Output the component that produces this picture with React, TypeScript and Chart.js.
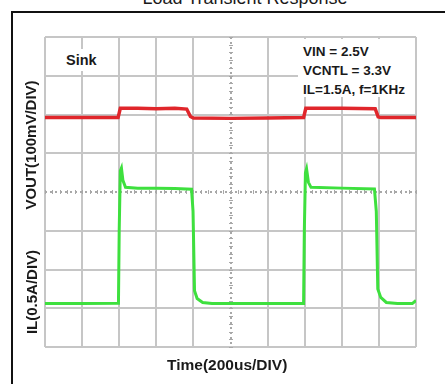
import React, { useEffect, useRef } from "react";
import { Chart, registerables } from "chart.js";
Chart.register(...registerables);

// Time axis in divisions (200us/DIV), 10 divisions
const X_MIN = 0;
const X_MAX = 10;
// Vertical axis in divisions, 8 divisions
const Y_MIN = 0;
const Y_MAX = 8;

// VOUT trace (100mV/DIV), level in screen divisions from the bottom
const voutTime = [0, 1.0, 1.97, 2.03, 2.5, 3.0, 3.5, 3.82, 3.92, 4.0, 5.0, 6.0, 6.97, 7.03, 8.0, 8.9, 8.98, 9.05, 10];
const voutLevel = [5.92, 5.92, 5.92, 6.16, 6.16, 6.15, 6.16, 6.14, 5.95, 5.91, 5.9, 5.91, 5.92, 6.16, 6.16, 6.15, 5.94, 5.92, 5.92];

// IL trace (0.5A/DIV), level in screen divisions from the bottom
const ilTime = [0, 1.0, 1.98, 2.0, 2.03, 2.06, 2.1, 2.17, 2.5, 3.0, 3.5, 3.95, 3.99, 4.03, 4.1, 4.25, 4.5, 5.0, 6.0, 6.97, 6.99, 7.02, 7.05, 7.1, 7.17, 8.0, 8.88, 8.93, 8.97, 9.05, 9.2, 9.5, 9.9, 10];
const ilLevel = [1.12, 1.12, 1.13, 3.0, 4.55, 4.62, 4.3, 4.12, 4.1, 4.1, 4.09, 4.07, 3.5, 1.45, 1.25, 1.15, 1.12, 1.12, 1.12, 1.12, 3.0, 4.5, 4.6, 4.25, 4.12, 4.1, 4.08, 3.5, 1.5, 1.28, 1.15, 1.12, 1.12, 1.2];

const CENTER_X = 5;
const CENTER_Y = 4;

const FONT = '"Liberation Sans", Arial, sans-serif';

const centerLines = {
  id: "centerLines",
  beforeDatasetsDraw(chart: any) {
    const { ctx, chartArea, scales } = chart;
    const xs = scales.x;
    const ys = scales.y;
    const cx = Math.round(xs.getPixelForValue(CENTER_X));
    const cy = Math.round(ys.getPixelForValue(CENTER_Y));
    ctx.save();
    ctx.strokeStyle = "#a8a8a8";
    ctx.lineWidth = 2;
    ctx.setLineDash([2, 3]);
    ctx.beginPath();
    ctx.moveTo(cx, chartArea.top);
    ctx.lineTo(cx, chartArea.bottom);
    ctx.moveTo(chartArea.left, cy);
    ctx.lineTo(chartArea.right, cy);
    ctx.stroke();
    ctx.setLineDash([]);
    ctx.lineWidth = 1;
    ctx.beginPath();
    for (let v = Y_MIN; v <= Y_MAX + 1e-6; v += 0.2) {
      const py = Math.round(ys.getPixelForValue(v)) + 0.5;
      ctx.moveTo(cx - 2, py);
      ctx.lineTo(cx + 2, py);
    }
    for (let v = X_MIN; v <= X_MAX + 1e-6; v += 0.2) {
      const px = Math.round(xs.getPixelForValue(v)) + 0.5;
      ctx.moveTo(px, cy - 2);
      ctx.lineTo(px, cy + 2);
    }
    ctx.stroke();
    ctx.restore();
  },
};

function ChartCanvas() {
  const ref = useRef<HTMLCanvasElement | null>(null);
  useEffect(() => {
    if (!ref.current) return;
    const vout = voutTime.map((t, i) => ({ x: t, y: voutLevel[i] }));
    const il = ilTime.map((t, i) => ({ x: t, y: ilLevel[i] }));
    const gridColor = (c: any) =>
      c.tick && (c.scale.axis === "x" ? c.tick.value === CENTER_X : c.tick.value === CENTER_Y)
        ? "rgba(0,0,0,0)"
        : "#c6c6c6";
    const chart = new Chart(ref.current, {
      type: "line",
      data: {
        datasets: [
          {
            label: "VOUT",
            data: vout,
            borderColor: "#e0262b",
            borderWidth: 3.5,
            pointRadius: 0,
            tension: 0,
          },
          {
            label: "IL",
            data: il,
            borderColor: "#3ee03e",
            borderWidth: 3,
            pointRadius: 0,
            tension: 0,
          },
        ],
      },
      options: {
        responsive: false,
        animation: false,
        devicePixelRatio: 1,
        layout: { padding: { left: 45, right: 29, top: 37, bottom: 40 } },
        plugins: { legend: { display: false }, tooltip: { enabled: false }, title: { display: false } },
        scales: {
          x: {
            type: "linear",
            min: X_MIN,
            max: X_MAX,
            ticks: { display: false, stepSize: 1 },
            grid: { color: gridColor, lineWidth: 2, drawTicks: false },
            border: { display: false },
          },
          y: {
            type: "linear",
            min: Y_MIN,
            max: Y_MAX,
            ticks: { display: false, stepSize: 1 },
            grid: { color: gridColor, lineWidth: 2, drawTicks: false },
            border: { display: false },
          },
        },
      },
      plugins: [centerLines],
    });
    return () => chart.destroy();
  }, []);
  return <canvas ref={ref} width={445} height={387} style={{ position: "absolute", left: 0, top: 0 }} />;
}

export default function App() {
  const bold: React.CSSProperties = { fontFamily: FONT, fontWeight: "bold", color: "#1a1a1a", position: "absolute", whiteSpace: "nowrap" };
  return (
    <div style={{ position: "fixed", left: 0, top: 0, width: 445, height: 387, background: "#fff", overflow: "hidden" }}>
      <div
        style={{
          ...bold,
          fontWeight: "normal",
          fontSize: 18,
          lineHeight: "18px",
          top: -11,
          left: 0,
          width: 490,
          textAlign: "center",
        }}
      >
        Load Transient Response
      </div>
      <div style={{ position: "absolute", left: 11, top: 11, width: 434, height: 2, background: "#111" }} />
      <div style={{ position: "absolute", left: 11, top: 11, width: 2, height: 373, background: "#111" }} />
      <ChartCanvas />
      <div style={{ ...bold, left: 62, top: 49, fontSize: 14.5, lineHeight: "18px", background: "#fff", padding: "2px 4px" }}>Sink</div>
      <div
        style={{
          ...bold,
          left: 298,
          top: 39,
          width: 117,
          height: 58,
          background: "#fff",
          fontSize: 13.5,
          lineHeight: "19px",
          paddingLeft: 5,
          paddingTop: 3,
          boxSizing: "border-box",
        }}
      >
        <div>VIN = 2.5V</div>
        <div>VCNTL = 3.3V</div>
        <div>IL=1.5A, f=1KHz</div>
      </div>
      <div
        style={{
          ...bold,
          fontSize: 15,
          lineHeight: "16px",
          left: 31,
          top: 145,
          transform: "translate(-50%, -50%) rotate(-90deg)",
        }}
      >
        VOUT(100mV/DIV)
      </div>
      <div
        style={{
          ...bold,
          fontSize: 15,
          lineHeight: "16px",
          left: 32,
          top: 292,
          transform: "translate(-50%, -50%) rotate(-90deg)",
        }}
      >
        IL(0.5A/DIV)
      </div>
      <div style={{ ...bold, fontSize: 15.5, lineHeight: "18px", left: 167, top: 356 }}>Time(200us/DIV)</div>
    </div>
  );
}
